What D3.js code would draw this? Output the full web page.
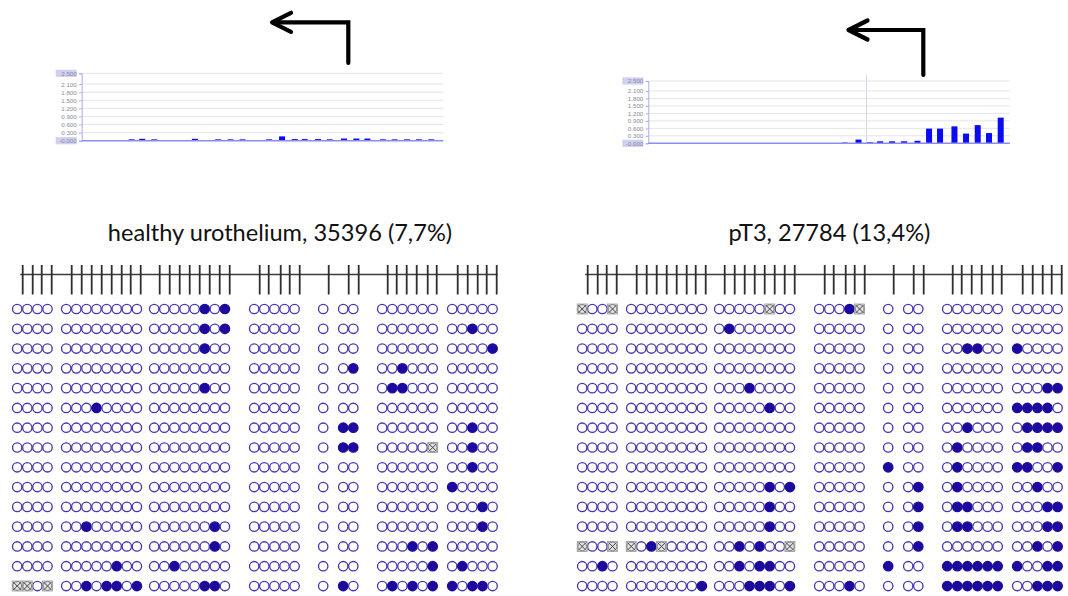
<!DOCTYPE html>
<html>
<head>
<meta charset="utf-8">
<script src="https://cdn.jsdelivr.net/npm/d3@7"></script>
<style>
  html, body { margin: 0; padding: 0; background: #fff; }
  svg { display: block; }
</style>
</head>
<body>
<svg id="chart" width="1068" height="596"></svg>
<script>
// ---- CpG layout of the amplicon ----
const groupSizes = [4, 8, 8, 5, 1, 2, 6, 5];
// CpG positions along the amplicon (relative units)
const cpgPositions = [0, 10, 19, 29,
  49, 59, 69, 79, 89, 99, 108, 118,
  137, 147, 157, 167, 177, 187, 197, 207,
  237, 246, 258, 267, 277,
  306,
  326, 336,
  365, 374, 384, 394, 405, 414,
  435, 445, 455, 464, 474];

// ---- clone methylation patterns: 0 unmethylated, 1 methylated, x not determined ----
const rowsHealthy = [
  "0000 00000000 00000101 00000 0 00 000000 00000",
  "0000 00000000 00000101 00000 0 00 000000 00100",
  "0000 00000000 00000100 00000 0 00 000000 00001",
  "0000 00000000 00000000 00000 0 01 001000 00000",
  "0000 00000000 00000100 00000 0 00 011000 00000",
  "0000 00010000 00000000 00000 0 00 000000 00000",
  "0000 00000000 00000000 00000 0 11 000000 00100",
  "0000 00000000 00000000 00000 0 11 00000x 00100",
  "0000 00000000 00000000 00000 0 00 000000 00100",
  "0000 00000000 00000000 00000 0 00 000000 10000",
  "0000 00000000 00000000 00000 0 00 000000 00010",
  "0000 00100000 00000010 00000 0 00 000000 00010",
  "0000 00000000 00000010 00000 0 00 000101 00000",
  "0000 00000100 00100000 00000 0 00 000001 01000",
  "xx0x 00101101 00000110 00000 0 10 010101 10110"
];
const rowsTumor = [
  "x00x 00000000 00000x00 0001x 0 00 000000 00000",
  "0000 00000000 01000000 00000 0 00 000000 00000",
  "0000 00000000 00000000 00000 0 00 001100 10000",
  "0000 00000000 00000000 00000 0 00 000000 00000",
  "0000 00000000 00010000 00000 0 00 000000 00011",
  "0000 00000000 00000100 00000 0 00 000000 11110",
  "0000 00000000 00000000 00000 0 00 001000 01111",
  "0000 00000000 00000000 00000 0 00 010000 01100",
  "0000 00000000 00000000 00000 1 00 010000 11001",
  "0000 00000000 00000101 00000 0 01 010000 00100",
  "0000 00000000 00000100 00000 0 01 011000 00011",
  "0000 00000000 00000100 00000 0 01 011000 00011",
  "x00x x01x0000 0010100x 00000 0 01 000000 00101",
  "0010 00000000 00101100 00000 1 00 111111 10011",
  "0000 00000001 00011101 00010 0 00 111111 00111"
];
const titleHealthy = "healthy urothelium, 35396 (7,7%)";
const titleTumor = "pT3, 27784 (13,4%)";

// ---- methylation level tracks above each panel ----
const yTickValues = [0, 0.3, 0.6, 0.9, 1.2, 1.5, 1.8, 2.1, 2.5];
const trackDomain = [0, 362];
const barPosHealthy = [50, 60.6, 72.6, 113.3, 136.6, 149, 161, 187.6, 200.6, 213.3, 223.3,
  236.6, 248.3, 262.6, 275, 286, 301.6, 313.3, 325.6, 337.6, 350];
const barValHealthy = [0.05, 0.07, 0.05, 0.07, 0.05, 0.05, 0.05, 0.05, 0.16, 0.06, 0.06,
  0.06, 0.05, 0.08, 0.08, 0.08, 0.05, 0.05, 0.05, 0.05, 0.05];
const barPosTumor = [196.7, 210.4, 222, 232, 244, 256, 269.4, 281, 292, 306.4, 318, 329.7, 341, 352.7];
const barValTumor = [0.03, 0.15, 0.04, 0.08, 0.08, 0.08, 0.1, 0.59, 0.59, 0.68, 0.39, 0.73, 0.41, 1.03];
const cursorTumor = 218.4;

const svg = d3.select("#chart");

const OPEN_STROKE = "#4638b0";
const FILLED = "#1c0a9e";

function drawTrack(left, right, top, bottom, pos, vals, cursor) {
  const g = svg.append("g");
  const x = d3.scaleLinear().domain(trackDomain).range([left, right]);
  const y = d3.scaleLinear().domain([0, 2.5]).range([bottom, top]);

  // grid
  g.selectAll("line.grid").data(yTickValues.filter(v => v > 0)).join("line")
    .attr("x1", left).attr("x2", right)
    .attr("y1", d => y(d)).attr("y2", d => y(d))
    .attr("stroke", "#e4e4ea").attr("stroke-width", 1);

  if (cursor != null) {
    g.append("line")
      .attr("x1", x(cursor)).attr("x2", x(cursor))
      .attr("y1", top - 6).attr("y2", bottom)
      .attr("stroke", "#d4d8ee").attr("stroke-width", 1);
  }

  // highlight boxes behind max / min labels
  [2.5, 0].forEach(v => {
    g.append("rect")
      .attr("x", left - 26).attr("y", y(v) - 3.6)
      .attr("width", 21).attr("height", 7.2)
      .attr("fill", "#cfd0f4");
  });

  // y axis
  const axis = d3.axisLeft(y).tickValues(yTickValues).tickSize(2.5)
    .tickFormat(d => d === 0 ? "-0.000" : d3.format(".3f")(d));
  const ax = g.append("g").attr("transform", `translate(${left},0)`).call(axis);
  ax.select(".domain").attr("stroke", "#a8aaf0").attr("stroke-width", 1);
  ax.selectAll(".tick line").attr("stroke", "#a8aaf0");
  ax.selectAll(".tick text")
    .attr("x", -5)
    .attr("fill", "#8a8a96")
    .style("font-family", "'Liberation Sans', Arial, sans-serif")
    .style("font-size", "6.2px");

  // bars
  g.selectAll("rect.bar").data(pos).join("rect")
    .attr("x", (d) => x(d) - 3)
    .attr("width", 6)
    .attr("y", (d, i) => y(vals[i]))
    .attr("height", (d, i) => y(0) - y(vals[i]))
    .attr("fill", "#0a0af5");

  // baseline
  g.append("line")
    .attr("x1", left).attr("x2", right)
    .attr("y1", y(0)).attr("y2", y(0))
    .attr("stroke", "#8c8cf2").attr("stroke-width", 1.4);
}

function drawArrow(x0, yBottom, yTop, xTip) {
  const g = svg.append("g")
    .attr("fill", "none").attr("stroke", "#000")
    .attr("stroke-width", 4.2).attr("stroke-linecap", "round").attr("stroke-linejoin", "miter");
  g.append("path").attr("d", `M${x0},${yBottom} V${yTop} H${xTip + 3}`);
  g.append("path")
    .attr("stroke-linejoin", "round")
    .attr("d", `M${xTip + 19},${yTop - 9.5} L${xTip},${yTop} L${xTip + 19},${yTop + 9.5}`);
}

function drawPanel(offsetX, titleX, title, rows) {
  const g = svg.append("g").attr("transform", `translate(${offsetX},0)`);
  const x = d3.scaleLinear().domain([0, 474]).range([22.7, 496.7]);
  const y = d3.scalePoint().domain(d3.range(rows.length)).range([309, 586]);

  // title
  g.append("text")
    .attr("x", titleX).attr("y", 241)
    .attr("text-anchor", "middle")
    .style("font-family", "Lato, 'Open Sans', sans-serif")
    .style("font-size", "23.6px")
    .attr("fill", "#111")
    .text(title);

  // backbone and CpG ticks
  g.append("line")
    .attr("x1", x(0) - 2.5).attr("x2", x(474) + 1)
    .attr("y1", 274.5).attr("y2", 274.5)
    .attr("stroke", "#3c3c3c").attr("stroke-width", 1.4);
  g.selectAll("line.cpg").data(cpgPositions).join("line")
    .attr("x1", d => x(d)).attr("x2", d => x(d))
    .attr("y1", 265).attr("y2", 294.5)
    .attr("stroke", "#2e2e2e").attr("stroke-width", 1.8);

  // circle positions: each group starts under its first CpG tick
  const starts = d3.cumsum([0, ...groupSizes.slice(0, -1)]);
  const cx = [];
  groupSizes.forEach((n, gi) => {
    const x0 = x(cpgPositions[starts[gi]]) - 5.5;
    for (let i = 0; i < n; i++) cx.push(x0 + i * 10.1);
  });

  const cells = [];
  rows.forEach((r, ri) => {
    r.replace(/ /g, "").split("").forEach((s, ci) => cells.push({ ri, ci, s }));
  });

  const r = 4.7;
  g.selectAll("circle.cpg").data(cells.filter(c => c.s !== "x")).join("circle")
    .attr("cx", d => cx[d.ci]).attr("cy", d => y(d.ri)).attr("r", r)
    .attr("fill", d => d.s === "1" ? FILLED : "#fff")
    .attr("stroke", d => d.s === "1" ? FILLED : OPEN_STROKE)
    .attr("stroke-width", 1.35);

  // not determined
  const nd = g.selectAll("g.nd").data(cells.filter(c => c.s === "x")).join("g")
    .attr("transform", d => `translate(${cx[d.ci]},${y(d.ri)})`);
  nd.append("rect").attr("x", -5).attr("y", -5).attr("width", 10).attr("height", 10)
    .attr("fill", "#e2e2e2").attr("stroke", "#9a9a9a").attr("stroke-width", 0.8);
  nd.append("circle").attr("r", 4.4).attr("fill", "none")
    .attr("stroke", "#7a7a7a").attr("stroke-width", 1);
  nd.append("path").attr("d", "M-4,-4 L4,4 M4,-4 L-4,4")
    .attr("stroke", "#444").attr("stroke-width", 1);
}

drawTrack(81.7, 443.3, 73.3, 140.7, barPosHealthy, barValHealthy, null);
drawTrack(648.3, 1010, 81, 143.3, barPosTumor, barValTumor, cursorTumor);
drawArrow(348.3, 63, 22.3, 272);
drawArrow(923.3, 75, 30, 848.5);
drawPanel(0, 280, titleHealthy, rowsHealthy);
drawPanel(565, 264.5, titleTumor, rowsTumor);
</script>
</body>
</html>
